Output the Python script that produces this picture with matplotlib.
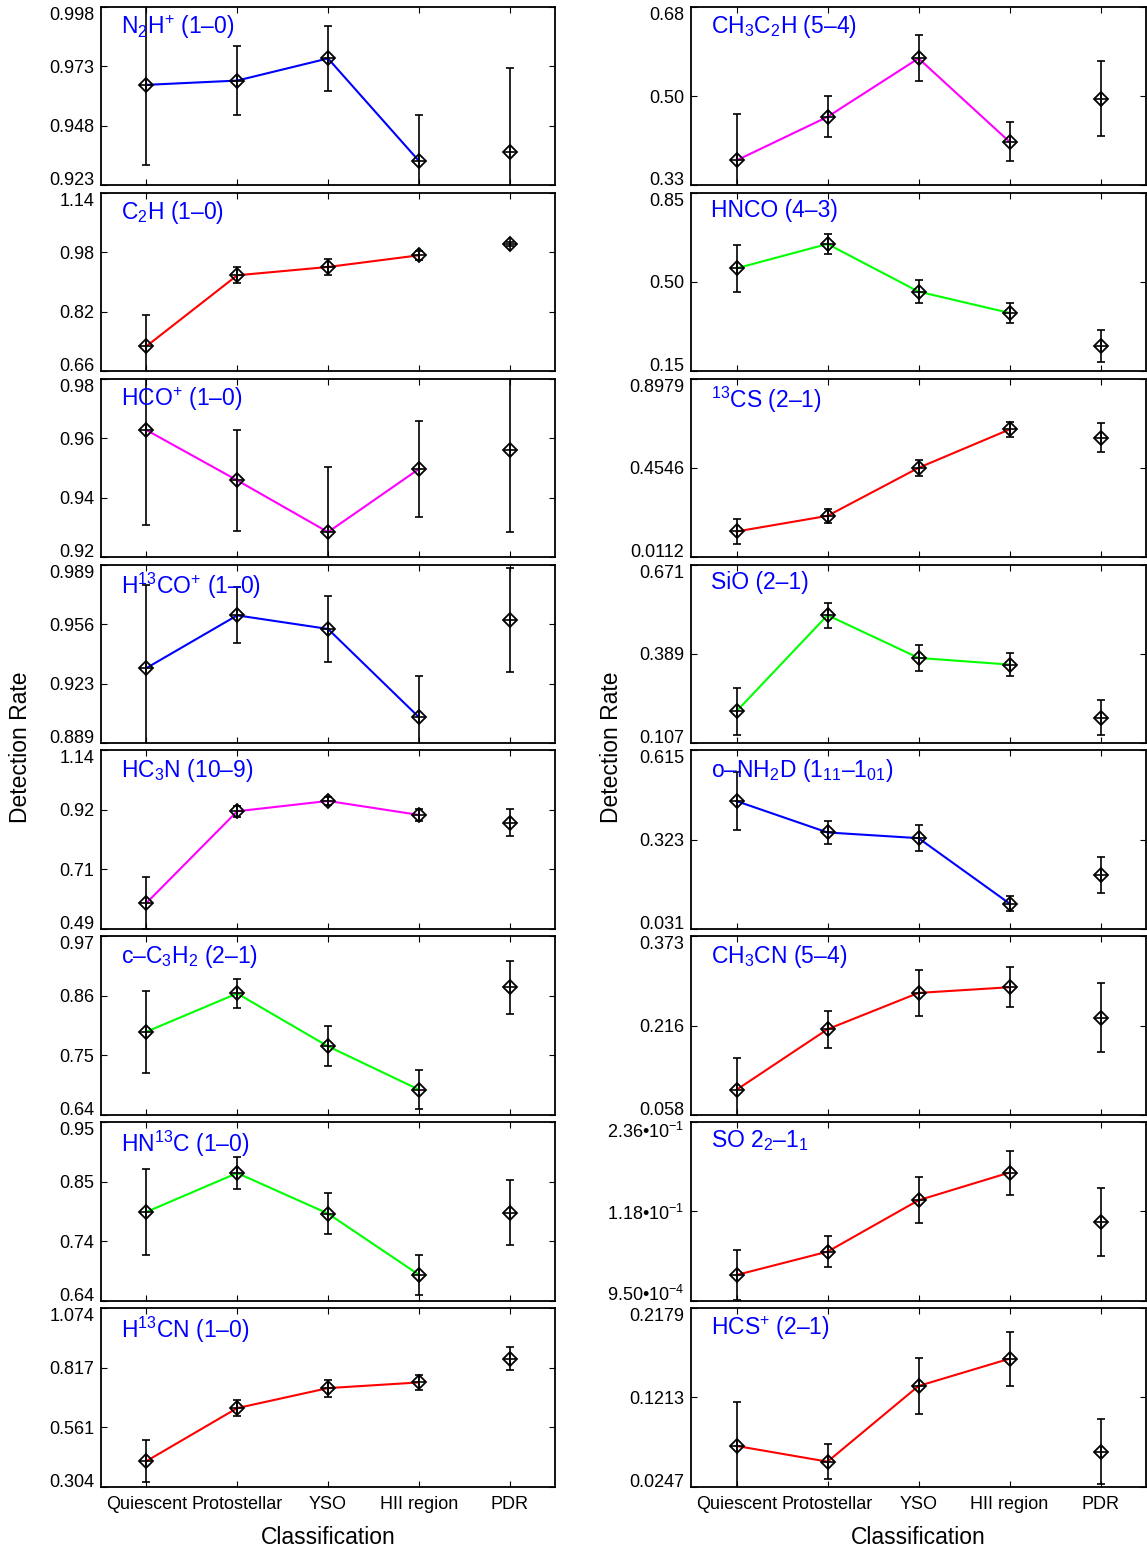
import matplotlib
matplotlib.use("Agg")
import matplotlib.pyplot as plt
import numpy as np

plt.rcParams["font.family"] = ["Liberation Sans", "DejaVu Sans"]
plt.rcParams["mathtext.fontset"] = "custom"
plt.rcParams["mathtext.rm"] = "Liberation Sans"
plt.rcParams["mathtext.default"] = "regular"

BLUE = "#0000ff"
RED = "#ff0000"
MAGENTA = "#ff00ff"
GREEN = "#00ff00"

categories = ["Quiescent", "Protostellar", "YSO", "HII region", "PDR"]

# left column
n2hp_val = [0.9652, 0.9670, 0.9763, 0.9333, 0.9372]
n2hp_err = [0.0338, 0.0145, 0.0135, 0.0194, 0.0350]
n2hp_ticks = ["0.923", "0.948", "0.973", "0.998"]

c2h_val = [0.7272, 0.9179, 0.9403, 0.9716, 1.0021]
c2h_err = [0.083, 0.022, 0.021, 0.012, 0.006]
c2h_ticks = ["0.66", "0.82", "0.98", "1.14"]

hcop_val = [0.9627, 0.9458, 0.9284, 0.9496, 0.9559]
hcop_err = [0.032, 0.017, 0.022, 0.016, 0.0276]
hcop_ticks = ["0.92", "0.94", "0.96", "0.98"]

h13cop_val = [0.9310, 0.9605, 0.9529, 0.9035, 0.9579]
h13cop_err = [0.0465, 0.0157, 0.0186, 0.023, 0.029]
h13cop_ticks = ["0.889", "0.923", "0.956", "0.989"]

hc3n_val = [0.5842, 0.9184, 0.9559, 0.9051, 0.8772]
hc3n_err = [0.095, 0.020, 0.015, 0.022, 0.048]
hc3n_ticks = ["0.49", "0.71", "0.92", "1.14"]

cc3h2_val = [0.7936, 0.8643, 0.7666, 0.6867, 0.8754]
cc3h2_err = [0.076, 0.027, 0.037, 0.036, 0.049]
cc3h2_ticks = ["0.64", "0.75", "0.86", "0.97"]

hn13c_val = [0.7942, 0.8617, 0.7913, 0.6852, 0.7930]
hn13c_err = [0.074, 0.028, 0.035, 0.035, 0.057]
hn13c_ticks = ["0.64", "0.74", "0.85", "0.95"]

h13cn_val = [0.414, 0.6426, 0.7289, 0.7533, 0.8554]
h13cn_err = [0.091, 0.036, 0.037, 0.032, 0.050]
h13cn_ticks = ["0.304", "0.561", "0.817", "1.074"]

# right column
ch3c2h_val = [0.3788, 0.4642, 0.5789, 0.4153, 0.5000]
ch3c2h_err = [0.0906, 0.0404, 0.045, 0.0385, 0.073]
ch3c2h_ticks = ["0.33", "0.50", "0.68"]

hnco_val = [0.5535, 0.6489, 0.4621, 0.3785, 0.2479]
hnco_err = [0.093, 0.039, 0.044, 0.039, 0.063]
hnco_ticks = ["0.15", "0.50", "0.85"]

cs13_val = [0.1384, 0.2160, 0.4546, 0.6453, 0.6040]
cs13_err = [0.064, 0.033, 0.041, 0.036, 0.071]
cs13_ticks = ["0.0112", "0.4546", "0.8979"]

sio_val = [0.2072, 0.5108, 0.3759, 0.3548, 0.1872]
sio_err = [0.074, 0.040, 0.041, 0.037, 0.056]
sio_ticks = ["0.107", "0.389", "0.671"]

nh2d_val = [0.4491, 0.3465, 0.3279, 0.114, 0.2078]
nh2d_err = [0.094, 0.039, 0.043, 0.025, 0.059]
nh2d_ticks = ["0.031", "0.323", "0.615"]

ch3cn_val = [0.1021, 0.209, 0.2731, 0.2831, 0.229]
ch3cn_err = [0.057, 0.033, 0.040, 0.035, 0.061]
ch3cn_ticks = ["0.058", "0.216", "0.373"]

so_val = [0.0348, 0.0655, 0.1332, 0.1697, 0.1042]
so_err = [0.033, 0.020, 0.030, 0.029, 0.045]
so_lim = (9.5e-4, 0.236)
so_ticks = ["9.50•10$^{-4}$", "1.18•10$^{-1}$", "2.36•10$^{-1}$"]

hcsp_val = [0.0687, 0.0517, 0.1336, 0.1631, 0.0626]
hcsp_err = [0.048, 0.019, 0.030, 0.029, 0.035]
hcsp_ticks = ["0.0247", "0.1213", "0.2179"]


def lim(ticks):
    return float(ticks[0]), float(ticks[-1])


left_panels = [
    (r"N$_2$H$^{+}$ (1–0)", n2hp_val, n2hp_err, BLUE, lim(n2hp_ticks), n2hp_ticks),
    (r"C$_2$H (1–0)", c2h_val, c2h_err, RED, lim(c2h_ticks), c2h_ticks),
    (r"HCO$^{+}$ (1–0)", hcop_val, hcop_err, MAGENTA, lim(hcop_ticks), hcop_ticks),
    (r"H$^{13}$CO$^{+}$ (1–0)", h13cop_val, h13cop_err, BLUE, lim(h13cop_ticks), h13cop_ticks),
    (r"HC$_3$N (10–9)", hc3n_val, hc3n_err, MAGENTA, lim(hc3n_ticks), hc3n_ticks),
    (r"c–C$_3$H$_2$ (2–1)", cc3h2_val, cc3h2_err, GREEN, lim(cc3h2_ticks), cc3h2_ticks),
    (r"HN$^{13}$C (1–0)", hn13c_val, hn13c_err, GREEN, lim(hn13c_ticks), hn13c_ticks),
    (r"H$^{13}$CN (1–0)", h13cn_val, h13cn_err, RED, lim(h13cn_ticks), h13cn_ticks),
]
right_panels = [
    (r"CH$_3$C$_2$H (5–4)", ch3c2h_val, ch3c2h_err, MAGENTA, lim(ch3c2h_ticks), ch3c2h_ticks),
    ("HNCO (4–3)", hnco_val, hnco_err, GREEN, lim(hnco_ticks), hnco_ticks),
    (r"$^{13}$CS (2–1)", cs13_val, cs13_err, RED, lim(cs13_ticks), cs13_ticks),
    ("SiO (2–1)", sio_val, sio_err, GREEN, lim(sio_ticks), sio_ticks),
    (r"o–NH$_2$D (1$_{11}$–1$_{01}$)", nh2d_val, nh2d_err, BLUE, lim(nh2d_ticks), nh2d_ticks),
    (r"CH$_3$CN (5–4)", ch3cn_val, ch3cn_err, RED, lim(ch3cn_ticks), ch3cn_ticks),
    (r"SO 2$_2$–1$_1$", so_val, so_err, RED, so_lim, so_ticks),
    (r"HCS$^{+}$ (2–1)", hcsp_val, hcsp_err, RED, lim(hcsp_ticks), hcsp_ticks),
]

W, H = 1147, 1551
fig = plt.figure(figsize=(W / 100, H / 100), dpi=100, facecolor="white")

col_left = [101, 691]
col_w = [454, 455]
top0, ph, gap = 6.8, 178.5, 7.4
x = np.arange(1, 6)

for c, panels in enumerate([left_panels, right_panels]):
    for r, (title, val, err, color, ylim, ticklabels) in enumerate(panels):
        y_top = top0 + r * (ph + gap)
        ax = fig.add_axes([col_left[c] / W, 1 - (y_top + ph) / H, col_w[c] / W, ph / H])
        ax.plot(x[:4], val[:4], color=color, lw=1.5, zorder=2)
        ax.errorbar(x, val, yerr=err, fmt="none", ecolor="k", elinewidth=1.2,
                    capsize=3, capthick=1.2, zorder=3)
        ax.plot(x, val, ls="none", marker="D", ms=7.5, mfc="none", mec="k",
                mew=1.3, zorder=4)
        ax.plot(x, val, ls="none", marker="+", ms=8, mec="k", mew=1.2, zorder=4)

        ax.set_xlim(0.5, 5.5)
        ax.set_ylim(*ylim)
        ax.set_xticks(x)
        ax.set_xticklabels(categories)
        ax.set_yticks(np.linspace(ylim[0], ylim[1], len(ticklabels)))
        ax.set_yticklabels(ticklabels)
        ax.tick_params(direction="in", top=True, right=True, length=4, width=0.8,
                       labelsize=13, pad=5, labelbottom=(r == 7))
        ax.tick_params(axis="x", pad=7)
        ylabels = ax.get_yticklabels()
        ylabels[0].set_va("baseline")
        ylabels[-1].set_va("top")
        for spine in ax.spines.values():
            spine.set_linewidth(1.3)
        ax.text(0.045, 0.965, title, transform=ax.transAxes, color=BLUE,
                fontsize=16.5, ha="left", va="top")

    cx = (col_left[c] + col_w[c] / 2) / W
    fig.text(cx, 1 - 1537 / H, "Classification", ha="center", va="center", fontsize=16.5)
    fig.text((col_left[c] - 80) / W, 1 - 747 / H, "Detection Rate", rotation=90,
             ha="center", va="center", fontsize=16.5)

fig.savefig("out.png", dpi=100, facecolor="white")
